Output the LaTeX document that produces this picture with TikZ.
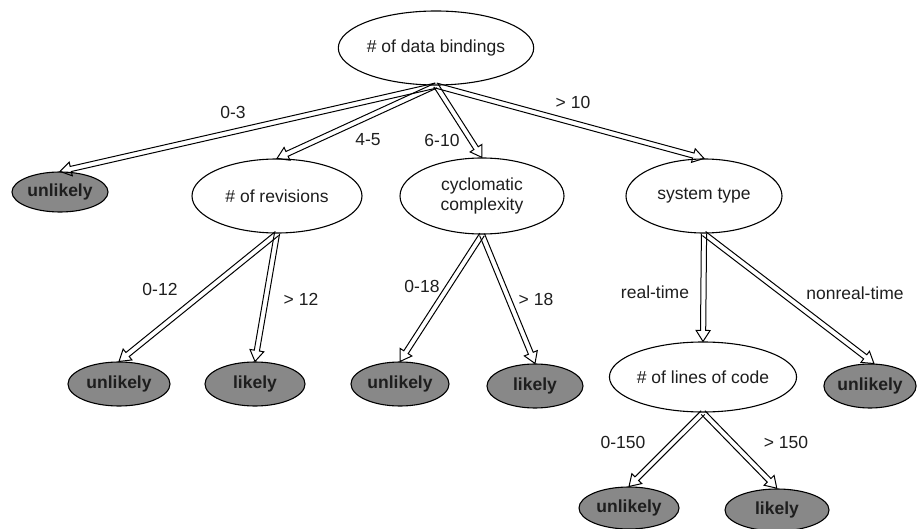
\documentclass[tikz,border=0pt]{standalone}
\usepackage{fontspec}
\setmainfont{Liberation Sans}
\usetikzlibrary{shapes.geometric,calc}
\definecolor{nodegray}{RGB}{136,136,136}
\definecolor{textdark}{RGB}{30,30,30}
\tikzset{
 ell/.style={ellipse, draw, line width=1.1pt, inner sep=0pt, text=textdark, font=\fontsize{17.5}{19.5}\selectfont, align=center},
 wnode/.style={ell, fill=white},
 gnode/.style={ell, fill=nodegray, font=\fontsize{17.5}{19.5}\selectfont\bfseries},
 lbl/.style={font=\fontsize{17.5}{19.5}\selectfont, inner sep=0pt, text=textdark},
 harr/.style={draw, line width=1pt, line join=miter},
}
\newcommand\harrow[2]{\draw[harr] let \p1=(#1), \p2=(#2), \n1={atan2(\y2-\y1,\x2-\x1)}, \n2={veclen(\x2-\x1,\y2-\y1)-11pt} in {[shift={(\p1)}, rotate=\n1] (0pt,2.6pt) -- (\n2,2.6pt) -- (\n2,7pt) -- (\n2+11pt,0pt) -- (\n2,-7pt) -- (\n2,-2.6pt) -- (0pt,-2.6pt)};}
\begin{document}
\begin{tikzpicture}[x=1pt,y=-1pt]
\useasboundingbox (0,0) rectangle (921,529);
% nodes
\node[wnode, minimum width=156pt, minimum height=74pt] (root) at (436,48) {\# of data bindings};
\node[gnode, minimum width=96pt, minimum height=40pt] (u0) at (60,192) {unlikely};
\node[wnode, minimum width=170pt, minimum height=74pt] (rev) at (277,196) {\# of revisions};
\node[wnode, minimum width=164pt, minimum height=76pt] (cyc) at (482,196) {cyclomatic\\complexity};
\node[wnode, minimum width=156pt, minimum height=74pt] (sys) at (704,196) {system type};
\node[gnode, minimum width=102pt, minimum height=44pt] (u1) at (119,384) {unlikely};
\node[gnode, minimum width=100pt, minimum height=44pt] (l1) at (255,384) {likely};
\node[gnode, minimum width=98pt, minimum height=44pt] (u2) at (400,384) {unlikely};
\node[gnode, minimum width=96pt, minimum height=44pt] (l2) at (535,386) {likely};
\node[wnode, minimum width=168pt, minimum height=70pt] (loc) at (703,377) {\# of lines of code};
\node[gnode, minimum width=88pt, minimum height=44pt] (u3) at (870,386) {unlikely};
\node[gnode, minimum width=100pt, minimum height=42pt] (u4) at (629,508) {unlikely};
\node[gnode, minimum width=104pt, minimum height=42pt] (l4) at (777,510) {likely};
% arrows
\harrow{root.south}{u0.north}
\harrow{root.south}{rev.north}
\harrow{root.south}{cyc.north}
\harrow{root.south}{sys.north}
\harrow{rev.south}{u1.north}
\harrow{rev.south}{l1.north}
\harrow{cyc.south}{u2.north}
\harrow{cyc.south}{l2.north}
\harrow{sys.south}{loc.north}
\harrow{sys.south}{u3.80}
\harrow{loc.south}{u4.north}
\harrow{loc.south}{l4.north}
% labels
\node[lbl] (t03) at (233,112) {0-3};
\node[lbl] (t45) at (368,140) {4-5};
\node[lbl] (t610) at (442,140) {6-10};
\node[lbl] (t10) at (573,102) {> 10};
\node[lbl] (t012) at (160,289) {0-12};
\node[lbl] (t12) at (301,299) {> 12};
\node[lbl] (t018) at (422,286) {0-18};
\node[lbl] (t18) at (536,299) {> 18};
\node[lbl] (trt) at (655,292) {real-time};
\node[lbl] (tnrt) at (855,293) {nonreal-time};
\node[lbl] (t0150) at (623,442) {0-150};
\node[lbl] (t150) at (786,442) {> 150};
\end{tikzpicture}
\end{document}
